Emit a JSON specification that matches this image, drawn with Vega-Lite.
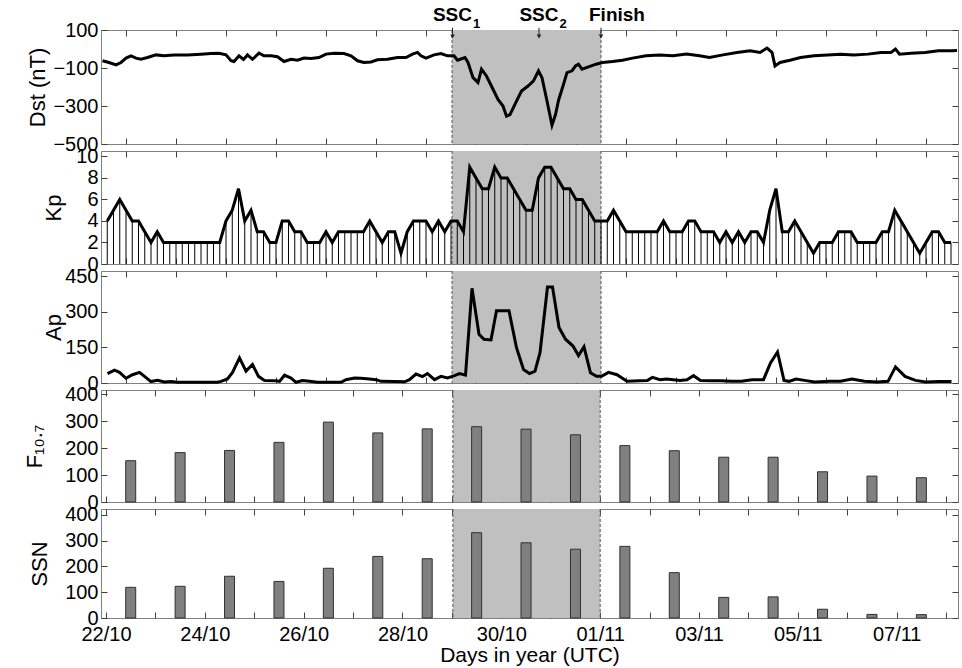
{
  "$schema": "https://vega.github.io/schema/vega-lite/v6.json",
  "background": "white",
  "padding": {"left": 22, "top": 5, "right": 5, "bottom": 0},
  "bounds": "flush",
  "spacing": 7,
  "config": {
    "font": "Liberation Sans",
    "view": {"stroke": "#808080", "strokeWidth": 1},
    "axis": {"domain": false, "grid": false, "tickSize": -6, "tickColor": "#404040", "tickWidth": 1, "labelFont": "Liberation Sans", "labelFontSize": 20, "labelColor": "#000", "labelPadding": 9, "labelFlush": false, "labelOverlap": false, "labelBound": false, "titleFont": "Liberation Sans", "titleFontSize": 22, "titleFontWeight": "normal", "titleColor": "#000"},
    "axisY": {"titleBaseline": "alphabetic"}
  },
  "datasets": {
    "shade": [{"s": 7.02, "e": 10.0}],
    "events": [{"d": 7.03, "t": "SSC", "s": "1"}, {"d": 8.76, "t": "SSC", "s": "2"}, {"d": 10.0, "t": "Finish", "s": ""}],
    "dst": [
      {"d":0.03,"v":-62},{"d":0.16,"v":-71},{"d":0.30,"v":-84},{"d":0.40,"v":-71},{"d":0.50,"v":-48},{"d":0.60,"v":-36},{"d":0.70,"v":-48},{"d":0.80,"v":-54},{"d":0.93,"v":-45},{"d":1.10,"v":-31},{"d":1.26,"v":-36},{"d":1.46,"v":-32},{"d":1.73,"v":-31},{"d":2.00,"v":-27},{"d":2.20,"v":-24},{"d":2.36,"v":-22},{"d":2.50,"v":-31},{"d":2.60,"v":-62},{"d":2.66,"v":-66},{"d":2.76,"v":-36},{"d":2.85,"v":-55},{"d":2.93,"v":-31},{"d":3.03,"v":-54},{"d":3.16,"v":-22},{"d":3.26,"v":-36},{"d":3.40,"v":-36},{"d":3.53,"v":-41},{"d":3.66,"v":-66},{"d":3.80,"v":-54},{"d":3.93,"v":-59},{"d":4.06,"v":-48},{"d":4.20,"v":-50},{"d":4.36,"v":-45},{"d":4.50,"v":-27},{"d":4.66,"v":-22},{"d":4.86,"v":-24},{"d":5.00,"v":-36},{"d":5.13,"v":-62},{"d":5.26,"v":-71},{"d":5.40,"v":-68},{"d":5.53,"v":-57},{"d":5.73,"v":-54},{"d":5.93,"v":-45},{"d":6.10,"v":-45},{"d":6.23,"v":-27},{"d":6.33,"v":-18},{"d":6.40,"v":-36},{"d":6.50,"v":-48},{"d":6.66,"v":-31},{"d":6.80,"v":-24},{"d":6.93,"v":-36},{"d":7.06,"v":-36},{"d":7.13,"v":-59},{"d":7.28,"v":-45},{"d":7.34,"v":-71},{"d":7.44,"v":-151},{"d":7.54,"v":-177},{"d":7.61,"v":-106},{"d":7.71,"v":-142},{"d":7.84,"v":-212},{"d":7.94,"v":-265},{"d":8.04,"v":-300},{"d":8.11,"v":-354},{"d":8.18,"v":-345},{"d":8.31,"v":-274},{"d":8.41,"v":-221},{"d":8.54,"v":-195},{"d":8.65,"v":-168},{"d":8.75,"v":-115},{"d":8.82,"v":-151},{"d":8.92,"v":-274},{"d":9.02,"v":-401},{"d":9.09,"v":-345},{"d":9.15,"v":-271},{"d":9.25,"v":-186},{"d":9.32,"v":-124},{"d":9.42,"v":-115},{"d":9.49,"v":-89},{"d":9.55,"v":-80},{"d":9.62,"v":-106},{"d":9.75,"v":-94},{"d":9.90,"v":-80},{"d":10.03,"v":-71},{"d":10.23,"v":-66},{"d":10.43,"v":-59},{"d":10.63,"v":-48},{"d":10.90,"v":-36},{"d":11.17,"v":-31},{"d":11.44,"v":-36},{"d":11.71,"v":-27},{"d":11.97,"v":-36},{"d":12.17,"v":-45},{"d":12.44,"v":-31},{"d":12.72,"v":-18},{"d":12.98,"v":-9},{"d":13.18,"v":-18},{"d":13.32,"v":5},{"d":13.42,"v":-18},{"d":13.48,"v":-89},{"d":13.58,"v":-71},{"d":13.78,"v":-59},{"d":13.99,"v":-45},{"d":14.26,"v":-36},{"d":14.53,"v":-31},{"d":14.79,"v":-27},{"d":15.06,"v":-31},{"d":15.34,"v":-27},{"d":15.60,"v":-18},{"d":15.80,"v":-18},{"d":15.89,"v":0},{"d":15.97,"v":-27},{"d":16.20,"v":-22},{"d":16.48,"v":-18},{"d":16.75,"v":-9},{"d":17.01,"v":-9},{"d":17.12,"v":-8}
    ],
    "kp": [
      {"d":0.125,"v":4},{"d":0.25,"v":5},{"d":0.375,"v":6},{"d":0.5,"v":5},{"d":0.625,"v":4},{"d":0.75,"v":4},{"d":0.875,"v":3},{"d":1,"v":2},{"d":1.125,"v":3},{"d":1.25,"v":2},
      {"d":1.375,"v":2},{"d":1.5,"v":2},{"d":1.625,"v":2},{"d":1.75,"v":2},{"d":1.875,"v":2},{"d":2,"v":2},{"d":2.125,"v":2},{"d":2.25,"v":2},{"d":2.375,"v":2},{"d":2.5,"v":4},
      {"d":2.625,"v":5},{"d":2.75,"v":7},{"d":2.875,"v":4},{"d":3,"v":5},{"d":3.125,"v":3},{"d":3.25,"v":3},{"d":3.375,"v":2},{"d":3.5,"v":2},{"d":3.625,"v":4},{"d":3.75,"v":4},
      {"d":3.875,"v":3},{"d":4,"v":3},{"d":4.125,"v":2},{"d":4.25,"v":2},{"d":4.375,"v":2},{"d":4.5,"v":3},{"d":4.625,"v":2},{"d":4.75,"v":3},{"d":4.875,"v":3},{"d":5,"v":3},
      {"d":5.125,"v":3},{"d":5.25,"v":3},{"d":5.375,"v":4},{"d":5.5,"v":3},{"d":5.625,"v":2},{"d":5.75,"v":3},{"d":5.875,"v":3},{"d":6,"v":1},{"d":6.125,"v":3},{"d":6.25,"v":4},
      {"d":6.375,"v":4},{"d":6.5,"v":4},{"d":6.625,"v":3},{"d":6.75,"v":4},{"d":6.875,"v":3},{"d":7,"v":4},{"d":7.125,"v":4},{"d":7.25,"v":3},{"d":7.375,"v":9},{"d":7.5,"v":8},
      {"d":7.625,"v":7},{"d":7.75,"v":7},{"d":7.875,"v":9},{"d":8,"v":8},{"d":8.125,"v":8},{"d":8.25,"v":7},{"d":8.375,"v":6},{"d":8.5,"v":5},{"d":8.625,"v":5},{"d":8.75,"v":8},
      {"d":8.875,"v":9},{"d":9,"v":9},{"d":9.125,"v":8},{"d":9.25,"v":7},{"d":9.375,"v":7},{"d":9.5,"v":6},{"d":9.625,"v":6},{"d":9.75,"v":5},{"d":9.875,"v":4},{"d":10,"v":4},
      {"d":10.125,"v":4},{"d":10.25,"v":5},{"d":10.375,"v":4},{"d":10.5,"v":3},{"d":10.625,"v":3},{"d":10.75,"v":3},{"d":10.875,"v":3},{"d":11,"v":3},{"d":11.125,"v":3},{"d":11.25,"v":4},
      {"d":11.375,"v":3},{"d":11.5,"v":3},{"d":11.625,"v":3},{"d":11.75,"v":4},{"d":11.875,"v":4},{"d":12,"v":3},{"d":12.125,"v":3},{"d":12.25,"v":3},{"d":12.375,"v":2},{"d":12.5,"v":3},
      {"d":12.625,"v":2},{"d":12.75,"v":3},{"d":12.875,"v":2},{"d":13,"v":3},{"d":13.125,"v":3},{"d":13.25,"v":2},{"d":13.375,"v":5},{"d":13.5,"v":7},{"d":13.625,"v":3},{"d":13.75,"v":3},
      {"d":13.875,"v":4},{"d":14,"v":3},{"d":14.125,"v":2},{"d":14.25,"v":1},{"d":14.375,"v":2},{"d":14.5,"v":2},{"d":14.625,"v":2},{"d":14.75,"v":3},{"d":14.875,"v":3},{"d":15,"v":3},
      {"d":15.125,"v":2},{"d":15.25,"v":2},{"d":15.375,"v":2},{"d":15.5,"v":2},{"d":15.625,"v":3},{"d":15.75,"v":3},{"d":15.875,"v":5},{"d":16,"v":4},{"d":16.125,"v":3},{"d":16.25,"v":2},
      {"d":16.375,"v":1},{"d":16.5,"v":2},{"d":16.625,"v":3},{"d":16.75,"v":3},{"d":16.875,"v":2},{"d":17,"v":2}
    ],
    "ap": [
      {"d":0.13,"v":40},{"d":0.27,"v":54},{"d":0.37,"v":45},{"d":0.5,"v":20},{"d":0.63,"v":35},{"d":0.77,"v":45},{"d":0.87,"v":28},{"d":1.0,"v":6},{"d":1.13,"v":11},{"d":1.27,"v":4},{"d":1.4,"v":6},{"d":1.53,"v":3},{"d":1.8,"v":3},{"d":2.1,"v":3},{"d":2.33,"v":3},{"d":2.4,"v":7},{"d":2.53,"v":17},{"d":2.63,"v":45},{"d":2.77,"v":106},{"d":2.9,"v":50},{"d":3.03,"v":78},{"d":3.15,"v":28},{"d":3.27,"v":11},{"d":3.47,"v":10},{"d":3.57,"v":7},{"d":3.67,"v":33},{"d":3.8,"v":21},{"d":3.9,"v":3},{"d":4.03,"v":10},{"d":4.17,"v":7},{"d":4.33,"v":3},{"d":4.6,"v":3},{"d":4.8,"v":3},{"d":4.9,"v":14},{"d":5.07,"v":21},{"d":5.2,"v":20},{"d":5.37,"v":17},{"d":5.5,"v":14},{"d":5.6,"v":7},{"d":5.87,"v":6},{"d":6.07,"v":5},{"d":6.17,"v":14},{"d":6.3,"v":38},{"d":6.43,"v":27},{"d":6.53,"v":40},{"d":6.67,"v":14},{"d":6.8,"v":28},{"d":6.93,"v":21},{"d":7.07,"v":31},{"d":7.17,"v":40},{"d":7.29,"v":33},{"d":7.42,"v":400},{"d":7.56,"v":206},{"d":7.66,"v":185},{"d":7.8,"v":182},{"d":7.91,"v":305},{"d":8.16,"v":305},{"d":8.31,"v":149},{"d":8.45,"v":57},{"d":8.57,"v":40},{"d":8.68,"v":50},{"d":8.78,"v":128},{"d":8.93,"v":405},{"d":9.03,"v":405},{"d":9.16,"v":234},{"d":9.29,"v":185},{"d":9.44,"v":156},{"d":9.55,"v":116},{"d":9.66,"v":153},{"d":9.79,"v":43},{"d":9.91,"v":28},{"d":10.01,"v":28},{"d":10.15,"v":45},{"d":10.32,"v":35},{"d":10.52,"v":7},{"d":10.77,"v":10},{"d":10.93,"v":11},{"d":11.03,"v":24},{"d":11.18,"v":14},{"d":11.31,"v":17},{"d":11.58,"v":11},{"d":11.72,"v":14},{"d":11.85,"v":31},{"d":11.99,"v":11},{"d":12.2,"v":10},{"d":12.4,"v":10},{"d":12.61,"v":7},{"d":12.81,"v":7},{"d":13.02,"v":14},{"d":13.25,"v":14},{"d":13.39,"v":85},{"d":13.53,"v":131},{"d":13.66,"v":11},{"d":13.76,"v":7},{"d":13.9,"v":17},{"d":14.07,"v":11},{"d":14.27,"v":4},{"d":14.58,"v":7},{"d":14.79,"v":7},{"d":15.02,"v":17},{"d":15.27,"v":7},{"d":15.53,"v":4},{"d":15.74,"v":7},{"d":15.89,"v":68},{"d":16.08,"v":28},{"d":16.29,"v":11},{"d":16.49,"v":4},{"d":16.76,"v":6},{"d":17.01,"v":6}
    ],
    "f107": [
      {"d":0.5,"v":153},{"d":1.5,"v":183},{"d":2.5,"v":191},{"d":3.5,"v":221},{"d":4.5,"v":296},{"d":5.5,"v":256},{"d":6.5,"v":271},{"d":7.5,"v":279},{"d":8.5,"v":270},{"d":9.5,"v":249},{"d":10.5,"v":209},{"d":11.5,"v":190},{"d":12.5,"v":166},{"d":13.5,"v":166},{"d":14.5,"v":112},{"d":15.5,"v":96},{"d":16.5,"v":90}
    ],
    "ssn": [
      {"d":0.5,"v":119},{"d":1.5,"v":123},{"d":2.5,"v":162},{"d":3.5,"v":142},{"d":4.5,"v":193},{"d":5.5,"v":239},{"d":6.5,"v":230},{"d":7.5,"v":331},{"d":8.5,"v":292},{"d":9.5,"v":267},{"d":10.5,"v":278},{"d":11.5,"v":176},{"d":12.5,"v":80},{"d":13.5,"v":82},{"d":14.5,"v":34},{"d":15.5,"v":14},{"d":16.5,"v":13}
    ]
  },
  "vconcat": [
    {
      "width": 857, "height": 114,
      "layer": [
        {"data": {"name": "shade"}, "mark": {"type": "rect", "color": "#c0c0c0"}, "encoding": {"x": {"field": "s", "type": "quantitative", "scale": {"domain": [0, 17.14], "nice": false, "zero": false}, "axis": null}, "x2": {"field": "e"}}},
        {"data": {"name": "shade"}, "mark": {"type": "rule", "color": "#555", "strokeDash": [3, 2], "strokeWidth": 1}, "encoding": {"x": {"field": "s", "type": "quantitative", "axis": null}}},
        {"data": {"name": "shade"}, "mark": {"type": "rule", "color": "#555", "strokeDash": [3, 2], "strokeWidth": 1}, "encoding": {"x": {"field": "e", "type": "quantitative", "axis": null}}},
        {"data": {"name": "dst"}, "mark": {"type": "line", "color": "#000", "strokeWidth": 3},
         "encoding": {
           "x": {"field": "d", "type": "quantitative", "scale": {"domain": [0, 17.14], "nice": false, "zero": false}, "axis": {"values": [0.5,1.5,2.5,3.5,4.5,5.5,6.5,7.5,8.5,9.5,10.5,11.5,12.5,13.5,14.5,15.5,16.5], "labels": false, "title": null}},
           "y": {"field": "v", "type": "quantitative", "scale": {"domain": [-500, 100], "nice": false, "zero": false}, "axis": {"values": [-500, -300, -100, 100], "title": "Dst (nT)", "titleX": -57}}}},
        {"data": {"name": "dst"}, "mark": {"type": "point", "opacity": 0},
         "encoding": {
           "x": {"field": "d", "type": "quantitative", "axis": {"orient": "top", "values": [0.5,1.5,2.5,3.5,4.5,5.5,6.5,7.5,8.5,9.5,10.5,11.5,12.5,13.5,14.5,15.5,16.5], "labels": false, "title": null}},
           "y": {"field": "v", "type": "quantitative", "axis": {"orient": "right", "values": [-500, -300, -100, 100], "labels": false, "title": null}}}},
        {"data": {"name": "events"}, "mark": {"type": "rule", "color": "#222", "strokeWidth": 1},
         "encoding": {"x": {"field": "d", "type": "quantitative", "axis": null}, "y": {"datum": 112, "axis": null}, "y2": {"datum": 62}}},
        {"data": {"name": "events"}, "mark": {"type": "point", "shape": "triangle-down", "filled": true, "size": 22, "color": "#222", "opacity": 1},
         "encoding": {"x": {"field": "d", "type": "quantitative", "axis": null}, "y": {"datum": 66, "axis": null}}},
        {"data": {"name": "events"}, "transform": [{"filter": "datum.t == 'SSC'"}],
         "mark": {"type": "text", "align": "right", "baseline": "alphabetic", "dx": 19.5, "fontSize": 19, "fontWeight": "bold", "font": "Liberation Sans", "color": "#000"},
         "encoding": {"x": {"field": "d", "type": "quantitative", "axis": null}, "y": {"datum": 147, "axis": null}, "text": {"field": "t"}}},
        {"data": {"name": "events"}, "transform": [{"filter": "datum.s != ''"}],
         "mark": {"type": "text", "align": "left", "baseline": "alphabetic", "dx": 20.5, "fontSize": 13, "fontWeight": "bold", "font": "Liberation Sans", "color": "#000"},
         "encoding": {"x": {"field": "d", "type": "quantitative", "axis": null}, "y": {"datum": 112, "axis": null}, "text": {"field": "s"}}},
        {"data": {"name": "events"}, "transform": [{"filter": "datum.t == 'Finish'"}],
         "mark": {"type": "text", "align": "left", "baseline": "alphabetic", "dx": -12, "fontSize": 19, "fontWeight": "bold", "font": "Liberation Sans", "color": "#000"},
         "encoding": {"x": {"field": "d", "type": "quantitative", "axis": null}, "y": {"datum": 147, "axis": null}, "text": {"field": "t"}}}
      ],
      "resolve": {"axis": {"x": "independent", "y": "independent"}}
    },
    {
      "width": 857, "height": 113,
      "layer": [
        {"data": {"name": "shade"}, "mark": {"type": "rect", "color": "#c0c0c0"}, "encoding": {"x": {"field": "s", "type": "quantitative", "scale": {"domain": [0, 17.14], "nice": false, "zero": false}, "axis": null}, "x2": {"field": "e"}}},
        {"data": {"name": "shade"}, "mark": {"type": "rule", "color": "#555", "strokeDash": [3, 2], "strokeWidth": 1}, "encoding": {"x": {"field": "s", "type": "quantitative", "axis": null}}},
        {"data": {"name": "shade"}, "mark": {"type": "rule", "color": "#555", "strokeDash": [3, 2], "strokeWidth": 1}, "encoding": {"x": {"field": "e", "type": "quantitative", "axis": null}}},
        {"data": {"name": "kp"}, "mark": {"type": "rule", "color": "#000", "strokeWidth": 1},
         "encoding": {"x": {"field": "d", "type": "quantitative", "axis": null}, "y": {"field": "v", "type": "quantitative", "axis": null}, "y2": {"datum": 0}}},
        {"data": {"name": "kp"}, "mark": {"type": "line", "color": "#000", "strokeWidth": 3},
         "encoding": {
           "x": {"field": "d", "type": "quantitative", "scale": {"domain": [0, 17.14], "nice": false, "zero": false}, "axis": {"values": [0.5,1.5,2.5,3.5,4.5,5.5,6.5,7.5,8.5,9.5,10.5,11.5,12.5,13.5,14.5,15.5,16.5], "labels": false, "title": null}},
           "y": {"field": "v", "type": "quantitative", "scale": {"domain": [0, 10.5], "nice": false, "zero": false}, "axis": {"values": [0, 2, 4, 6, 8, 10], "title": "Kp", "titleX": -41}}}},
        {"data": {"name": "kp"}, "mark": {"type": "point", "opacity": 0},
         "encoding": {
           "x": {"field": "d", "type": "quantitative", "axis": {"orient": "top", "values": [0.5,1.5,2.5,3.5,4.5,5.5,6.5,7.5,8.5,9.5,10.5,11.5,12.5,13.5,14.5,15.5,16.5], "labels": false, "title": null}},
           "y": {"field": "v", "type": "quantitative", "axis": {"orient": "right", "values": [0, 2, 4, 6, 8, 10], "labels": false, "title": null}}}}
      ],
      "resolve": {"axis": {"x": "independent", "y": "independent"}}
    },
    {
      "width": 857, "height": 112,
      "layer": [
        {"data": {"name": "shade"}, "mark": {"type": "rect", "color": "#c0c0c0"}, "encoding": {"x": {"field": "s", "type": "quantitative", "scale": {"domain": [0, 17.14], "nice": false, "zero": false}, "axis": null}, "x2": {"field": "e"}}},
        {"data": {"name": "shade"}, "mark": {"type": "rule", "color": "#555", "strokeDash": [3, 2], "strokeWidth": 1}, "encoding": {"x": {"field": "s", "type": "quantitative", "axis": null}}},
        {"data": {"name": "shade"}, "mark": {"type": "rule", "color": "#555", "strokeDash": [3, 2], "strokeWidth": 1}, "encoding": {"x": {"field": "e", "type": "quantitative", "axis": null}}},
        {"data": {"name": "ap"}, "mark": {"type": "line", "color": "#000", "strokeWidth": 3},
         "encoding": {
           "x": {"field": "d", "type": "quantitative", "scale": {"domain": [0, 17.14], "nice": false, "zero": false}, "axis": {"values": [0.5,1.5,2.5,3.5,4.5,5.5,6.5,7.5,8.5,9.5,10.5,11.5,12.5,13.5,14.5,15.5,16.5], "labels": false, "title": null}},
           "y": {"field": "v", "type": "quantitative", "scale": {"domain": [0, 473], "nice": false, "zero": false}, "axis": {"values": [0, 150, 300, 450], "title": "Ap", "titleX": -41}}}},
        {"data": {"name": "ap"}, "mark": {"type": "point", "opacity": 0},
         "encoding": {
           "x": {"field": "d", "type": "quantitative", "axis": {"orient": "top", "values": [0.5,1.5,2.5,3.5,4.5,5.5,6.5,7.5,8.5,9.5,10.5,11.5,12.5,13.5,14.5,15.5,16.5], "labels": false, "title": null}},
           "y": {"field": "v", "type": "quantitative", "axis": {"orient": "right", "values": [0, 150, 300, 450], "labels": false, "title": null}}}}
      ],
      "resolve": {"axis": {"x": "independent", "y": "independent"}}
    },
    {
      "width": 857, "height": 112,
      "layer": [
        {"data": {"name": "shade"}, "mark": {"type": "rect", "color": "#c0c0c0"}, "encoding": {"x": {"field": "s", "type": "quantitative", "scale": {"domain": [0, 17.14], "nice": false, "zero": false}, "axis": null}, "x2": {"field": "e"}}},
        {"data": {"name": "shade"}, "mark": {"type": "rule", "color": "#555", "strokeDash": [3, 2], "strokeWidth": 1}, "encoding": {"x": {"field": "s", "type": "quantitative", "axis": null}}},
        {"data": {"name": "shade"}, "mark": {"type": "rule", "color": "#555", "strokeDash": [3, 2], "strokeWidth": 1}, "encoding": {"x": {"field": "e", "type": "quantitative", "axis": null}}},
        {"data": {"name": "f107"}, "mark": {"type": "bar", "orient": "vertical", "width": 10, "color": "#808080", "stroke": "#303030", "strokeWidth": 1},
         "encoding": {
           "x": {"field": "d", "type": "quantitative", "scale": {"domain": [0, 17.14], "nice": false, "zero": false}, "axis": {"values": [0,1,2,3,4,5,6,7,8,9,10,11,12,13,14,15,16,17], "labels": false, "title": null}},
           "y": {"field": "v", "type": "quantitative", "scale": {"domain": [0, 415], "nice": false, "zero": false}, "axis": {"values": [0, 100, 200, 300, 400], "title": "F₁₀.₇", "titleX": -60}}}},
        {"data": {"name": "f107"}, "mark": {"type": "point", "opacity": 0},
         "encoding": {
           "x": {"field": "d", "type": "quantitative", "axis": {"orient": "top", "values": [0,1,2,3,4,5,6,7,8,9,10,11,12,13,14,15,16,17], "labels": false, "title": null}},
           "y": {"field": "v", "type": "quantitative", "axis": {"orient": "right", "values": [0, 100, 200, 300, 400], "labels": false, "title": null}}}}
      ],
      "resolve": {"axis": {"x": "independent", "y": "independent"}}
    },
    {
      "width": 857, "height": 109,
      "layer": [
        {"data": {"name": "shade"}, "mark": {"type": "rect", "color": "#c0c0c0"}, "encoding": {"x": {"field": "s", "type": "quantitative", "scale": {"domain": [0, 17.14], "nice": false, "zero": false}, "axis": null}, "x2": {"field": "e"}}},
        {"data": {"name": "shade"}, "mark": {"type": "rule", "color": "#555", "strokeDash": [3, 2], "strokeWidth": 1}, "encoding": {"x": {"field": "s", "type": "quantitative", "axis": null}}},
        {"data": {"name": "shade"}, "mark": {"type": "rule", "color": "#555", "strokeDash": [3, 2], "strokeWidth": 1}, "encoding": {"x": {"field": "e", "type": "quantitative", "axis": null}}},
        {"data": {"name": "ssn"}, "mark": {"type": "bar", "orient": "vertical", "width": 10, "color": "#808080", "stroke": "#303030", "strokeWidth": 1},
         "encoding": {
           "x": {"field": "d", "type": "quantitative", "scale": {"domain": [0, 17.14], "nice": false, "zero": false}, "axis": {"values": [0,1,2,3,4,5,6,7,8,9,10,11,12,13,14,15,16,17], "labelExpr": "['22/10','','24/10','','26/10','','28/10','','30/10','','01/11','','03/11','','05/11','','07/11',''][datum.value]", "labelPadding": 12, "title": "Days in year (UTC)", "titleFontSize": 21, "titlePadding": 0}},
           "y": {"field": "v", "type": "quantitative", "scale": {"domain": [0, 423], "nice": false, "zero": false}, "axis": {"values": [0, 100, 200, 300, 400], "title": "SSN", "titleX": -55}}}},
        {"data": {"name": "ssn"}, "mark": {"type": "point", "opacity": 0},
         "encoding": {
           "x": {"field": "d", "type": "quantitative", "axis": {"orient": "top", "values": [0,1,2,3,4,5,6,7,8,9,10,11,12,13,14,15,16,17], "labels": false, "title": null}},
           "y": {"field": "v", "type": "quantitative", "axis": {"orient": "right", "values": [0, 100, 200, 300, 400], "labels": false, "title": null}}}}
      ],
      "resolve": {"axis": {"x": "independent", "y": "independent"}}
    }
  ]
}
